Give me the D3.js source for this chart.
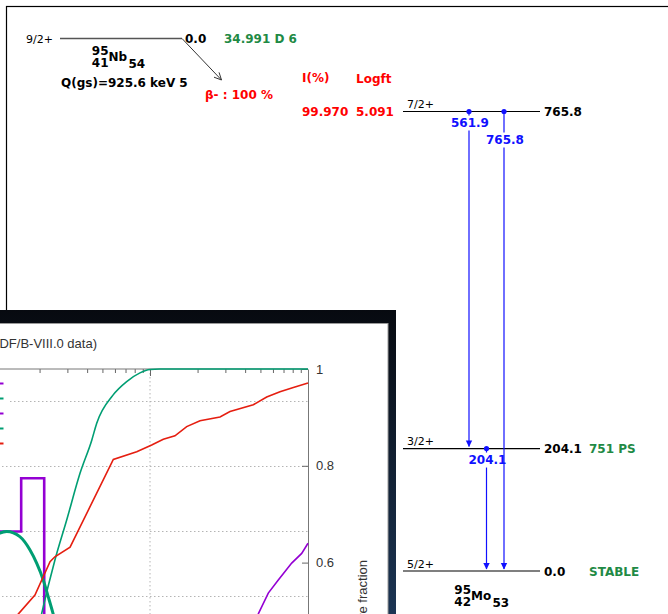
<!DOCTYPE html>
<html>
<head>
<meta charset="utf-8">
<script src="https://cdn.jsdelivr.net/npm/d3@7"></script>
<style>
  html, body { margin: 0; padding: 0; background: #fff; }
  svg { display: block; }
</style>
</head>
<body>
<svg id="chart" width="668" height="614"></svg>
<script>
// Decay scheme: 95Nb (beta-) -> 95Mo
const parentSpin = '9/2+'
const parentLevel = '0.0'
const parentHalfLife = '34.991 D 6'
const qValue = 'Q(gs)=925.6 keV 5'
const decayMode = 'β- : 100 %'

const levelSpins = ['7/2+', '3/2+', '5/2+']
const levelEnergies = [765.8, 204.1, 0.0]
const levelHalfLives = ['', '751 PS', 'STABLE']
const feedIntensity = ['99.970', '', '']
const feedLogft = ['5.091', '', '']

// gammas in left-to-right order
const gammaEnergies = ['561.9', '204.1', '765.8']
const gammaFrom = [765.8, 204.1, 765.8]
const gammaTo = [204.1, 0.0, 0.0]

// Inset: spectra (ENDF/B-VIII.0), energy in keV
const stepEdges = [8.0, 15.3, 21.4, 30.0]
const stepValues = [0.600, 0.764, 0.0]

const bellEnergy = [9.7, 11.2, 12.4, 15.0, 17.4, 19.2, 21.1, 22.7, 24.4, 26.9]
const bellValues = [0.574, 0.595, 0.600, 0.584, 0.543, 0.502, 0.451, 0.399, 0.346, 0.266]

const cumGreenEnergy = [18.7, 20.6, 25.0, 29.7, 36.1, 42.8, 46.0, 58.3, 71.2, 86.4, 100, 115, 1000]
const cumGreenValues = [0.430, 0.494, 0.605, 0.688, 0.785, 0.853, 0.888, 0.946, 0.974, 0.992, 0.999, 1.0, 1.0]

const cumRedEnergy = [12.1, 14.7, 18.7, 23.3, 25.0, 31.2, 58.6, 82.4, 102.5, 121.4, 143.9, 170.7, 207.3, 277.3, 320.9, 450.6, 547.8, 664.9, 807.5, 1000]
const cumRedValues = [0.463, 0.494, 0.533, 0.602, 0.612, 0.632, 0.813, 0.829, 0.843, 0.855, 0.862, 0.881, 0.893, 0.901, 0.912, 0.926, 0.942, 0.953, 0.962, 0.971]

const cumPurpleEnergy = [429.5, 484.6, 560.6, 648.6, 788.6, 912.3, 1000]
const cumPurpleValues = [0.461, 0.494, 0.537, 0.564, 0.599, 0.619, 0.640]

const legendColors = ['#9400d3', '#009e73', '#9400d3', '#009e73', '#e51e10']
const rightTicks = [0.6, 0.8, 1]
const gridTicks = [0.4, 0.6, 0.8, 1.0]

const svg = d3.select('#chart')
const FONT = 'DejaVu Sans, sans-serif'
const GREEN = '#1f8a45'
const BLUE = '#1010ff'

function label (g, x, y, text, opts = {}) {
  return g.append('text')
    .attr('x', x).attr('y', y)
    .attr('font-family', opts.family || FONT)
    .attr('font-size', opts.size || 12)
    .attr('font-weight', opts.weight || 'bold')
    .attr('fill', opts.fill || '#000')
    .attr('text-anchor', opts.anchor || 'start')
    .text(text)
}

function nuclide (g, x, y, mass, z, sym, n) {
  // x = start of element symbol, y = its baseline
  label(g, x, y - 6, mass, {anchor: 'end'})
  label(g, x, y + 5.5, z, {anchor: 'end'})
  label(g, x, y, sym)
  const w = sym === 'Mo' ? 20.5 : 19
  label(g, x + w + 1, y + 7, n)
}

function drawDecayScheme (g) {
  // 1. Frame
  g.append('rect')
    .attr('x', 6.5).attr('y', 6.5).attr('width', 700).attr('height', 700)
    .attr('fill', '#fff').attr('stroke', '#000').attr('stroke-width', 1.2)

  // 2. Parent
  const py = 38.5
  label(g, 26, py + 4, parentSpin, {weight: 'normal', size: 11})
  g.append('line').attr('x1', 60).attr('x2', 182).attr('y1', py).attr('y2', py)
    .attr('stroke', '#555').attr('stroke-width', 1.5)
  label(g, 185, py + 4, parentLevel)
  label(g, 224, py + 4, parentHalfLife, {fill: GREEN})
  nuclide(g, 108.5, 61, '95', '41', 'Nb', '54')
  label(g, 61, 86.5, qValue)

  const tip = [221.5, 80]
  const ang = Math.atan2(tip[1] - py, tip[0] - 182)
  g.append('line').attr('x1', 182).attr('y1', py).attr('x2', tip[0]).attr('y2', tip[1])
    .attr('stroke', '#333').attr('stroke-width', 1)
  g.append('path')
    .attr('d', d3.line()([
      [tip[0] - 8 * Math.cos(ang - 0.45), tip[1] - 8 * Math.sin(ang - 0.45)],
      tip,
      [tip[0] - 8 * Math.cos(ang + 0.45), tip[1] - 8 * Math.sin(ang + 0.45)]
    ]))
    .attr('fill', 'none').attr('stroke', '#333').attr('stroke-width', 1)
  label(g, 205, 99, decayMode, {fill: 'red'})

  label(g, 302, 82, 'I(%)', {fill: 'red'})
  label(g, 356, 82.5, 'Logft', {fill: 'red'})

  // 3. Daughter levels
  const y = d3.scaleLinear().domain([0, 765.8]).range([571, 111.5])
  const x0 = 403, x1 = 540

  levelEnergies.forEach((e, i) => {
    const ly = y(e)
    g.append('line').attr('x1', x0).attr('x2', x1).attr('y1', ly).attr('y2', ly)
      .attr('stroke', '#000').attr('stroke-width', 1.2)
    label(g, x0 + 4, ly - 3.5, levelSpins[i], {weight: 'normal', size: 11})
    label(g, x1 + 4, ly + 4.5, e.toFixed(1))
    if (levelHalfLives[i]) label(g, 589, ly + 4.5, levelHalfLives[i], {fill: GREEN})
    if (feedIntensity[i]) label(g, 302, ly + 4.5, feedIntensity[i], {fill: 'red'})
    if (feedLogft[i]) label(g, 356, ly + 4.5, feedLogft[i], {fill: 'red'})
  })
  nuclide(g, 471, 600, '95', '42', 'Mo', '53')

  // 4. Gammas
  const gx = d3.scalePoint().domain(d3.range(gammaEnergies.length)).range([469, 504])
  const seen = {}
  gammaEnergies.forEach((txt, i) => {
    const x = gx(i)
    const ya = y(gammaFrom[i]), yb = y(gammaTo[i])
    const k = seen[gammaFrom[i]] || 0
    seen[gammaFrom[i]] = k + 1
    const base = ya + 15 + 17 * k
    const top = base - 11, bot = base + 4
    const seg = [[ya, top], [bot, yb - 2]].filter(s => s[1] > s[0])
    seg.forEach(s => {
      g.append('line').attr('x1', x).attr('x2', x).attr('y1', s[0]).attr('y2', s[1])
        .attr('stroke', BLUE).attr('stroke-width', 1.2)
    })
    g.append('circle').attr('cx', x).attr('cy', ya).attr('r', 2.6).attr('fill', BLUE)
    g.append('path')
      .attr('d', d3.line()([[x - 3.2, yb - 8], [x + 3.2, yb - 8], [x, yb - 1.5]]) + 'Z')
      .attr('fill', BLUE)
    label(g, x + 1, base, txt, {fill: BLUE, anchor: 'middle'})
  })
}

function drawInset (g) {
  const defs = svg.append('defs')
  const grad = defs.append('linearGradient').attr('id', 'panelGrad')
    .attr('x1', 0).attr('y1', 0).attr('x2', 0).attr('y2', 1)
  grad.append('stop').attr('offset', '0%').attr('stop-color', '#070a10')
  grad.append('stop').attr('offset', '100%').attr('stop-color', '#1c3554')

  // 1. Panel + paper
  g.append('rect').attr('x', 0).attr('y', 310).attr('width', 396).attr('height', 304)
    .attr('fill', 'url(#panelGrad)')
  g.append('rect').attr('x', -2).attr('y', 323.5).attr('width', 390).attr('height', 300)
    .attr('fill', '#fff').attr('stroke', '#9a9a9a').attr('stroke-width', 1)

  const sans = 'Liberation Sans, Arial, sans-serif'
  label(g, 97, 348, 'Nb95 decay spectra (ENDF/B-VIII.0 data)',
    {family: sans, size: 13, weight: 'normal', fill: '#333', anchor: 'end'})

  const x = d3.scaleLog().domain([1, 1000]).range([-166, 308])
  const yL = d3.scaleLinear().domain([0, 1.1]).range([726.5, 369])
  const yR = d3.scaleLinear().domain([0, 1]).range([853, 369])

  // 2. Grid
  const grid = g.append('g').attr('stroke', '#b4b4b4').attr('stroke-dasharray', '1.5,2.5')
  gridTicks.forEach(t => {
    grid.append('line').attr('x1', x(1)).attr('x2', x(1000)).attr('y1', yL(t)).attr('y2', yL(t))
  })
  grid.append('line').attr('x1', x(100)).attr('x2', x(100)).attr('y1', 369).attr('y2', 614)

  // legend box
  g.append('rect').attr('x', -160).attr('y', 374).attr('width', 170).attr('height', 78).attr('fill', '#fff')
  legendColors.forEach((c, i) => {
    g.append('line').attr('x1', -24).attr('x2', 3.5)
      .attr('y1', 383.5 + i * 15).attr('y2', 383.5 + i * 15)
      .attr('stroke', c).attr('stroke-width', 2)
  })

  // 3. Axes
  const minor = []
  ;[1, 10, 100].forEach(d => d3.range(2, 10).forEach(m => minor.push(d * m)))
  g.append('g').attr('transform', 'translate(0,369)')
    .call(d3.axisBottom(x).tickValues(minor).tickSize(4).tickFormat(''))
    .call(a => a.select('.domain').remove())
    .call(a => a.selectAll('line').attr('stroke', '#666'))
  g.append('g').attr('transform', 'translate(0,369)')
    .call(d3.axisBottom(x).tickValues([10, 100]).tickSize(7).tickFormat(''))
    .call(a => a.select('.domain').remove())
    .call(a => a.selectAll('line').attr('stroke', '#666'))
  g.append('line').attr('x1', x(1)).attr('x2', x(1000)).attr('y1', 369).attr('y2', 369)
    .attr('stroke', '#777')

  g.append('g').attr('transform', 'translate(308,0)')
    .call(d3.axisRight(yR).tickValues(rightTicks).tickSize(-6).tickSizeOuter(0).tickPadding(8)
      .tickFormat(d3.format('~g')))
    .call(a => a.select('.domain').attr('stroke', '#777'))
    .call(a => a.selectAll('line').attr('stroke', '#666'))
    .call(a => a.selectAll('text').attr('font-family', sans).attr('font-size', 13).attr('fill', '#333'))

  g.append('text')
    .attr('transform', 'translate(367,560) rotate(-90)')
    .attr('font-family', sans).attr('font-size', 13).attr('fill', '#333')
    .attr('text-anchor', 'end')
    .text('Cumulative fraction')

  // 4. Series
  const lineL = d3.line().x(d => x(d[0])).y(d => yL(d[1]))
  const lineR = d3.line().x(d => x(d[0])).y(d => yR(d[1]))
  const zip = (a, b) => a.map((v, i) => [v, b[i]])

  const stepPts = zip(stepEdges, stepValues.concat([0]))
  g.append('path').attr('d', lineL.curve(d3.curveStepAfter)(stepPts))
    .attr('fill', 'none').attr('stroke', '#9400d3').attr('stroke-width', 2.6)
  g.append('path').attr('d', lineL.curve(d3.curveMonotoneX)(zip(bellEnergy, bellValues)))
    .attr('fill', 'none').attr('stroke', '#009e73').attr('stroke-width', 3)

  g.append('path').attr('d', lineR.curve(d3.curveMonotoneX)(zip(cumGreenEnergy, cumGreenValues)))
    .attr('fill', 'none').attr('stroke', '#009e73').attr('stroke-width', 1.6)
  g.append('path').attr('d', lineR.curve(d3.curveLinear)(zip(cumRedEnergy, cumRedValues)))
    .attr('fill', 'none').attr('stroke', '#e51e10').attr('stroke-width', 1.6)
  g.append('path').attr('d', lineR.curve(d3.curveLinear)(zip(cumPurpleEnergy, cumPurpleValues)))
    .attr('fill', 'none').attr('stroke', '#9400d3').attr('stroke-width', 1.6)
}

svg.append('rect').attr('width', 668).attr('height', 614).attr('fill', '#fff')
drawDecayScheme(svg.append('g'))
drawInset(svg.append('g'))
</script>
</body>
</html>
